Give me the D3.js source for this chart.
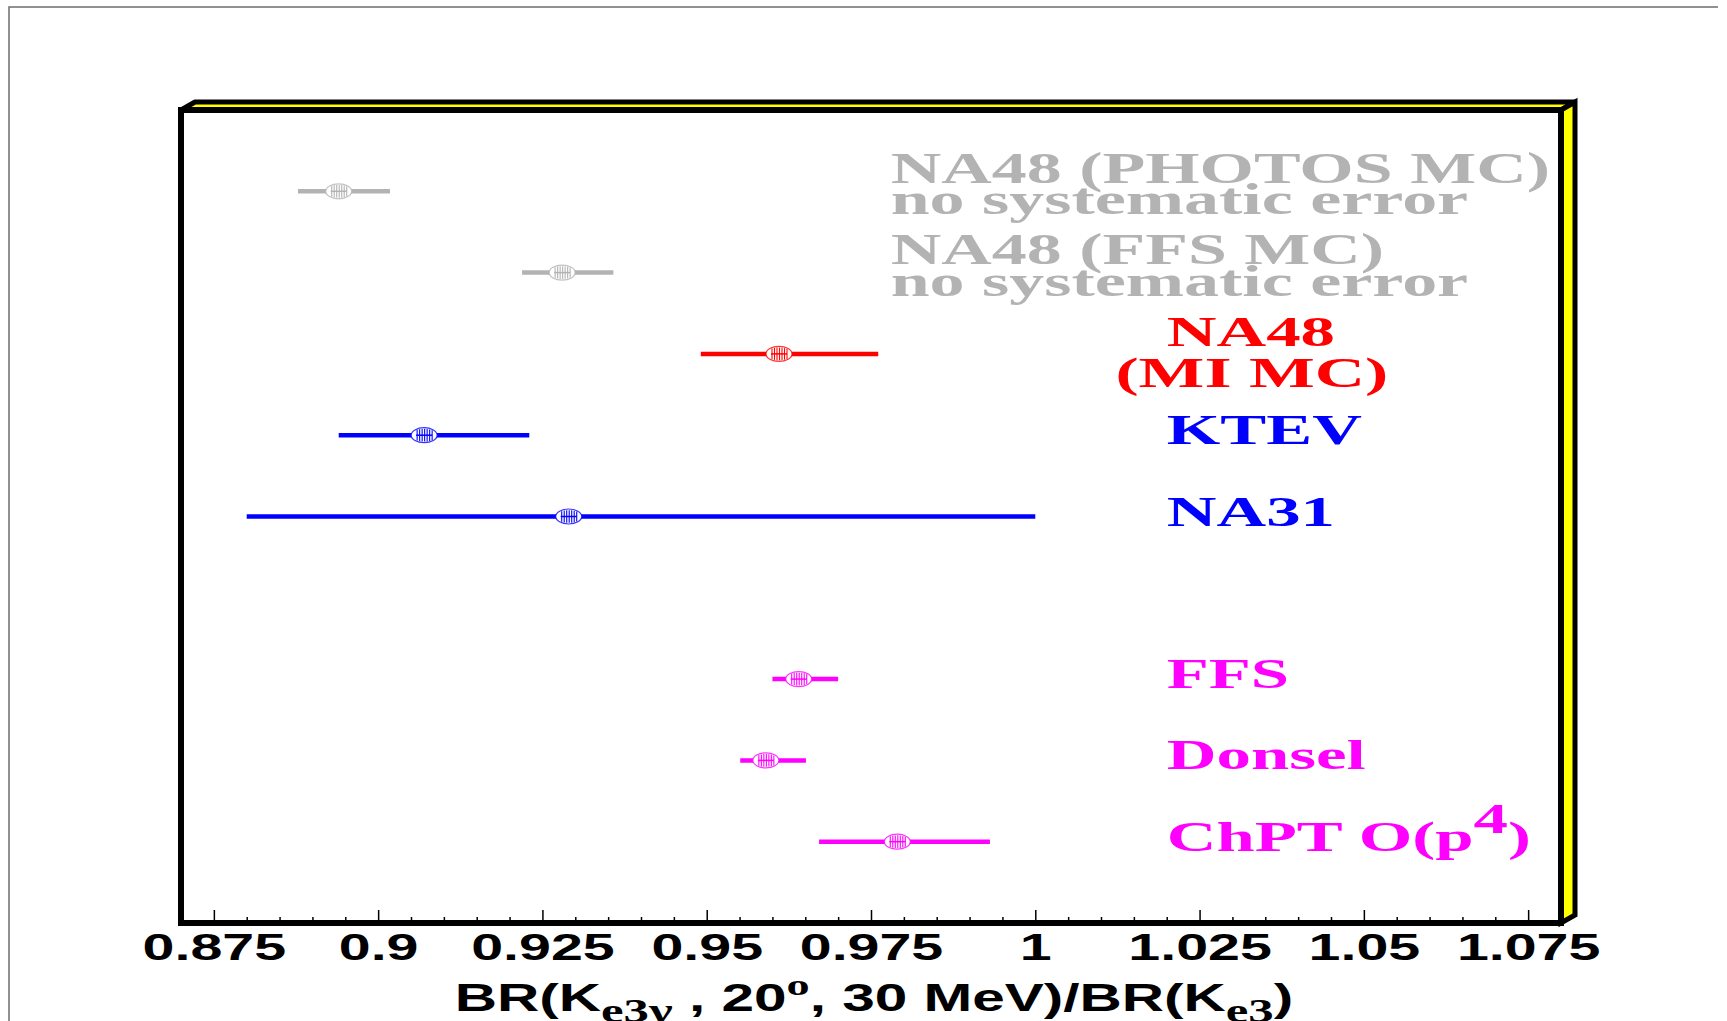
<!DOCTYPE html>
<html><head><meta charset="utf-8">
<script src="https://cdn.jsdelivr.net/npm/d3@7"></script>
<style>
html,body{margin:0;padding:0;background:#fff;overflow:hidden;}
</style></head>
<body>
<script>
// ---------------- data ----------------
const rowNames   = ["NA48 (PHOTOS MC)", "NA48 (FFS MC)", "NA48 (MI MC)", "KTEV", "NA31", "FFS", "Donsel", "ChPT O(p4)"];
const rowValues  = [0.894, 0.928, 0.961, 0.907, 0.929, 0.964, 0.959, 0.979];
const rowErrLow  = [0.0062, 0.0061, 0.0119, 0.013, 0.049, 0.004, 0.0039, 0.0119];
const rowErrHigh = [0.0078, 0.0078, 0.0151, 0.016, 0.071, 0.006, 0.0061, 0.0141];
const rowSlots   = [9, 8, 7, 6, 5, 3, 2, 1];
const rowColors  = ["#b3b3b3", "#b3b3b3", "#ff0000", "#0000ff", "#0000ff", "#ff00ff", "#ff00ff", "#ff00ff"];
const labelLines = [["NA48 (PHOTOS MC)", "no systematic error"], ["NA48 (FFS MC)", "no systematic error"],
                    ["NA48", "(MI MC)"], ["KTEV"], ["NA31"], ["FFS"], ["Donsel"], ["ChPT O(p^4)"]];
const tickValues = [0.875, 0.9, 0.925, 0.95, 0.975, 1, 1.025, 1.05, 1.075];
const tickLabels = ["0.875", "0.9", "0.925", "0.95", "0.975", "1", "1.025", "1.05", "1.075"];
const xDomain = [0.87, 1.08];
const yDomain = [0, 10];

// ---------------- layout ----------------
const W = 1727, H = 1021;
const svg = d3.select("body").append("svg").attr("width", W).attr("height", H);

// outer thin pad frame (top and left edges visible)
svg.append("path").attr("d", "M9,1030 L9,7 L1718,7")
  .attr("fill", "none").attr("stroke", "#6e6e6e").attr("stroke-width", 1.5);

const x = d3.scaleLinear().domain(xDomain).range([181, 1561]);
const y = d3.scaleLinear().domain(yDomain).range([923, 110]);
const [x0, x1] = x.range(), [y0, y1] = y.range(); // y0 bottom, y1 top
const dX = 14, dY = 8;

// bevel (top & right)
const bevel = svg.append("g");
bevel.append("polygon")
  .attr("points", [[x0, y1], [x0 + dX, y1 - dY], [x1 + dX, y1 - dY], [x1, y1]].map(p => p.join(",")).join(" "))
  .attr("fill", "#ffff00").attr("stroke", "#000").attr("stroke-width", 5).attr("stroke-linejoin", "bevel");
bevel.append("polygon")
  .attr("points", [[x1, y1], [x1 + dX, y1 - dY], [x1 + dX, y0 - dY], [x1, y0]].map(p => p.join(",")).join(" "))
  .attr("fill", "#ffff00").attr("stroke", "#000").attr("stroke-width", 5).attr("stroke-linejoin", "miter");

// frame
svg.append("rect").attr("x", x0).attr("y", y1).attr("width", x1 - x0).attr("height", y0 - y1)
  .attr("fill", "#fff").attr("stroke", "#000").attr("stroke-width", 6);

// axis ticks
const minorVals = d3.range(0, 41).map(i => +(0.875 + i * 0.005).toFixed(3))
  .filter(v => !tickValues.some(t => Math.abs(t - v) < 1e-9));
const axMinor = svg.append("g").attr("transform", `translate(0,${y0})`)
  .call(d3.axisBottom(x).tickValues(minorVals).tickSize(-6).tickFormat(""));
axMinor.select(".domain").remove();
axMinor.selectAll("line").attr("stroke", "#000").attr("stroke-width", 1.5);

const axMajor = svg.append("g").attr("transform", `translate(0,${y0})`)
  .call(d3.axisBottom(x).tickValues(tickValues).tickSize(-13).tickFormat((d, i) => tickLabels[i]));
axMajor.select(".domain").remove();
axMajor.selectAll("line").attr("stroke", "#000").attr("stroke-width", 1.5);
axMajor.selectAll("text")
  .attr("y", null).attr("dy", null)
  .attr("transform", "translate(0,37) scale(1.55,1)")
  .attr("text-anchor", "middle")
  .attr("font-family", "'Liberation Sans', Arial, sans-serif")
  .attr("font-weight", "bold").attr("font-size", 37).attr("fill", "#000");

// bottom axis line (thicker)
svg.append("line").attr("x1", x0 - 3).attr("x2", x1).attr("y1", y0).attr("y2", y0)
  .attr("stroke", "#000").attr("stroke-width", 5);

// axis title
const title = svg.append("text")
  .attr("transform", `translate(${(x0 + x1) / 2 + 3},1011) scale(1.54,1)`)
  .attr("text-anchor", "middle")
  .attr("font-family", "'Liberation Sans', Arial, sans-serif")
  .attr("font-weight", "bold").attr("font-size", 38).attr("fill", "#000");
title.append("tspan").text("BR(K");
title.append("tspan").attr("font-family", "'Liberation Serif', serif").attr("font-size", 33).attr("dy", 11).text("e3γ");
title.append("tspan").attr("dy", -11).text(" , 20");
title.append("tspan").attr("font-family", "'Liberation Serif', serif").attr("font-size", 30).attr("dy", -16).text("o");
title.append("tspan").attr("dy", 16).text(", 30 MeV)/BR(K");
title.append("tspan").attr("font-family", "'Liberation Serif', serif").attr("font-size", 33).attr("dy", 11).text("e3");
title.append("tspan").attr("dy", -11).text(")");

// ---------------- points ----------------
const rows = rowNames.map((n, i) => ({
  name: n, v: rowValues[i], lo: rowErrLow[i], hi: rowErrHigh[i],
  slot: rowSlots[i], color: rowColors[i], lines: labelLines[i]
}));

const g = svg.append("g");
const pts = g.selectAll("g.pt").data(rows).join("g").attr("class", "pt");
pts.append("line")
  .attr("x1", d => x(d.v - d.lo)).attr("x2", d => x(d.v + d.hi))
  .attr("y1", d => y(d.slot)).attr("y2", d => y(d.slot))
  .attr("stroke", d => d.color).attr("stroke-width", 4.5);
const rx = 13, ry = 7.5;
pts.append("ellipse")
  .attr("cx", d => x(d.v)).attr("cy", d => y(d.slot)).attr("rx", rx).attr("ry", ry)
  .attr("fill", "#fff").attr("stroke", d => d.color).attr("stroke-width", 1.2).attr("stroke-opacity", 0.8);
const hatch = [-7, -4.5, -2, 0.5, 3, 5.5, 8];
pts.each(function (d) {
  const s = d3.select(this);
  hatch.forEach(h => {
    const hh = ry * 0.85 * Math.sqrt(Math.max(0, 1 - (h / rx) ** 2));
    s.append("line").attr("x1", x(d.v) + h).attr("x2", x(d.v) + h)
      .attr("y1", y(d.slot) - hh).attr("y2", y(d.slot) + hh)
      .attr("stroke", d.color).attr("stroke-width", 1.1);
  });
  s.append("line").attr("x1", x(d.v) - 8).attr("x2", x(d.v) + 8)
    .attr("y1", y(d.slot)).attr("y2", y(d.slot)).attr("stroke", d.color).attr("stroke-width", 1.5);
});

// ---------------- labels ----------------
const serif = "'Liberation Serif', 'Times New Roman', serif";
function addLabel(str, px, py, size, sx, color, anchor) {
  const t = svg.append("text")
    .attr("transform", `translate(${px},${py}) scale(${sx},1)`)
    .attr("text-anchor", anchor || "start")
    .attr("font-family", serif).attr("font-weight", "bold")
    .attr("font-size", size).attr("fill", color);
  const parts = str.split("^");
  if (parts.length === 1) { t.text(str); }
  else {
    t.append("tspan").text(parts[0]);
    t.append("tspan").attr("font-size", size * 1.0).attr("dy", -size * 0.42).text(parts[1].charAt(0));
    t.append("tspan").attr("dy", size * 0.42).text(parts[1].slice(1));
  }
  return t;
}
rows.forEach((d, i) => {
  const cy = y(d.slot);
  if (d.color === "#b3b3b3") {
    addLabel(d.lines[0], x(0.978), cy - 8.5, 44, 1.59, d.color);
    addLabel(d.lines[1], x(0.978), cy + 23, 44, 1.59, d.color);
  } else if (d.lines.length === 2) {
    const t1 = addLabel(d.lines[0], x(1.02), cy - 7.5, 42, 1.64, d.color);
    const w = t1.node().getComputedTextLength() * 1.64;
    addLabel(d.lines[1], x(1.02) + w / 2 + 1, cy + 33.5, 42, 1.66, d.color, "middle");
  } else {
    addLabel(d.lines[0], x(1.02), cy + 9, 42, 1.64, d.color);
  }
});
</script>
</body></html>
